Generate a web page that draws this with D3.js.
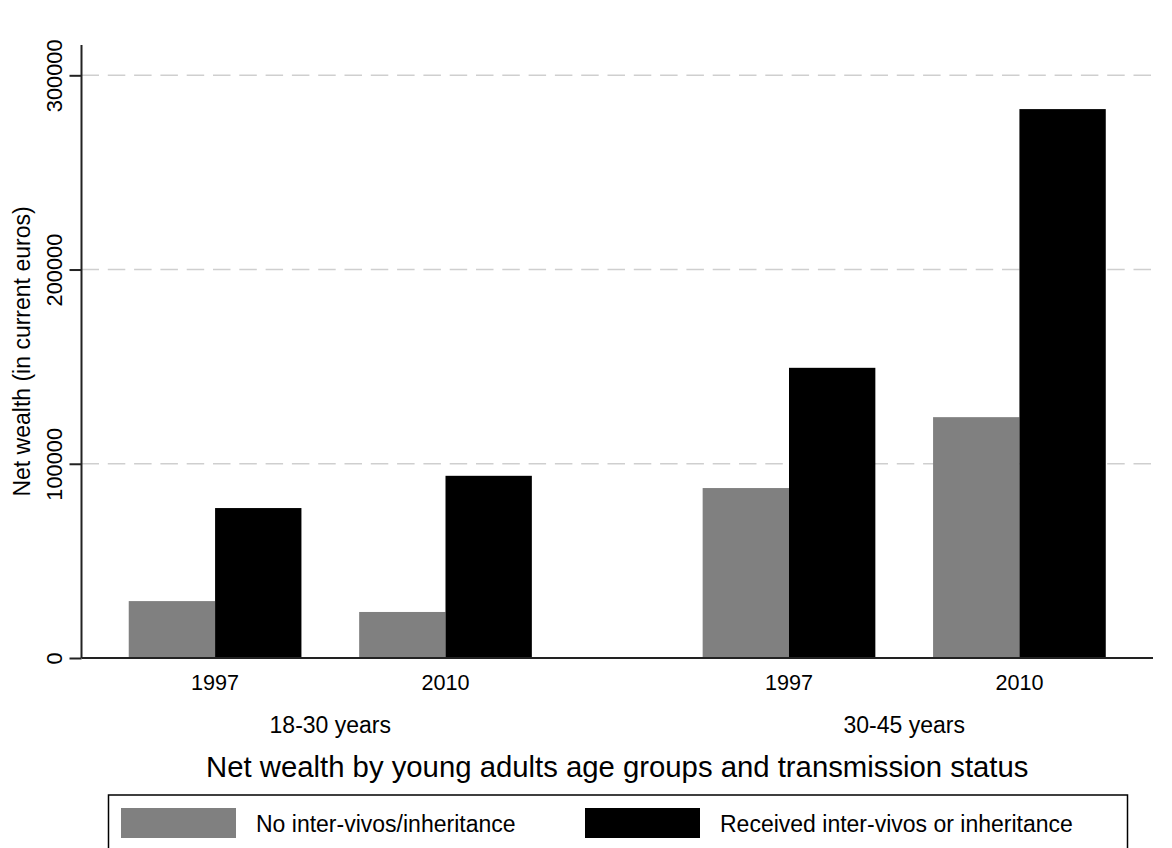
<!DOCTYPE html>
<html>
<head>
<meta charset="utf-8">
<script src="https://cdn.jsdelivr.net/npm/d3@7"></script>
<style>
  body { margin: 0; background: #fff; }
  svg text { font-family: "Liberation Sans", Arial, Helvetica, sans-serif; fill: #000; }
</style>
</head>
<body>
<div id="chart"></div>
<script>
// data
const ageGroups = ['18-30 years', '30-45 years'];
const years = ['1997', '2010'];
const seriesNames = ['No inter-vivos/inheritance', 'Received inter-vivos or inheritance'];
// values per age group, per year: [no transmission, received]
const young1997 = [29300, 77200];
const young2010 = [23700, 93800];
const older1997 = [87500, 149400];
const older2010 = [124000, 282600];
const yTicks = [0, 100000, 200000, 300000];
const yTop = 315600;

const rows = [
    { group: ageGroups[0], year: years[0], values: young1997 },
    { group: ageGroups[0], year: years[1], values: young2010 },
    { group: ageGroups[1], year: years[0], values: older1997 },
    { group: ageGroups[1], year: years[1], values: older2010 }
];
const colors = ['#808080', '#000000'];

// 1. svg + margins
const width = 1172;
const height = 848;
const margin = { top: 45, right: 19, bottom: 190, left: 81.5 };
const innerW = width - margin.left - margin.right;
const innerH = height - margin.top - margin.bottom;

const svg = d3.select('#chart').append('svg')
    .attr('width', width)
    .attr('height', height);

const group = svg.append('g')
    .attr('transform', 'translate(' + margin.left + ',' + margin.top + ')');

// 2. scales
const groupScale = d3.scaleBand().domain(ageGroups).range([0, innerW])
    .paddingInner(0.2976).paddingOuter(0.0823);
const yearScale = d3.scaleBand().domain(years).range([0, groupScale.bandwidth()])
    .paddingInner(0.2505).paddingOuter(0);
const seriesScale = d3.scaleBand().domain([0, 1]).range([0, yearScale.bandwidth()]);
const yScale = d3.scaleLinear().domain([0, yTop]).range([innerH, 0]);

// gridlines
group.append('g').selectAll('line')
    .data(yTicks.filter(d => d > 0))
    .join('line')
    .attr('x1', 0).attr('x2', innerW)
    .attr('y1', d => yScale(d)).attr('y2', d => yScale(d))
    .attr('stroke', '#cfcfcf')
    .attr('stroke-width', 1.5)
    .attr('stroke-dasharray', '17.5,8.8');

// bars
const pair = group.selectAll('g.pair')
    .data(rows)
    .join('g')
    .attr('class', 'pair')
    .attr('transform', d => 'translate(' + (groupScale(d.group) + yearScale(d.year)) + ',0)');

pair.selectAll('rect')
    .data(d => d.values.map((v, i) => ({ v, i })))
    .join('rect')
    .attr('x', d => seriesScale(d.i))
    .attr('y', d => yScale(d.v))
    .attr('width', seriesScale.bandwidth())
    .attr('height', d => innerH - yScale(d.v))
    .attr('fill', d => colors[d.i]);

// y axis
const yAxis = d3.axisLeft(yScale).tickValues(yTicks).tickSize(12).tickPadding(8).tickFormat(d3.format('d'));
const yAxisGroup = group.append('g').call(yAxis);
yAxisGroup.select('.domain').attr('stroke', '#222').attr('stroke-width', 2)
    .attr('d', 'M0,' + innerH + 'V0');
yAxisGroup.selectAll('.tick line').attr('stroke', '#222').attr('stroke-width', 2);
yAxisGroup.selectAll('.tick text')
    .attr('font-size', '21.8px')
    .attr('transform', 'rotate(-90)')
    .attr('x', 0)
    .attr('y', -20)
    .attr('dy', 0)
    .attr('text-anchor', 'middle');

// x baseline
group.append('line')
    .attr('x1', 0).attr('x2', innerW)
    .attr('y1', innerH).attr('y2', innerH)
    .attr('stroke', '#222').attr('stroke-width', 2);

// year labels
ageGroups.forEach(g => {
    const xAxis = d3.axisBottom(yearScale).tickSize(0).tickPadding(14);
    const ax = group.append('g')
        .attr('transform', 'translate(' + groupScale(g) + ',' + innerH + ')')
        .call(xAxis);
    ax.select('.domain').remove();
    ax.selectAll('.tick text').attr('font-size', '21.6px').attr('dy', 0).attr('y', 32);
});

// age group labels
group.append('g').selectAll('text')
    .data(ageGroups)
    .join('text')
    .attr('x', d => groupScale(d) + groupScale.bandwidth() / 2)
    .attr('y', innerH + 75)
    .attr('text-anchor', 'middle')
    .attr('font-size', '23px')
    .text(d => d);

// axis title
svg.append('text')
    .attr('transform', 'translate(30,' + (margin.top + innerH / 2) + ') rotate(-90)')
    .attr('text-anchor', 'middle')
    .attr('font-size', '23px')
    .text('Net wealth (in current euros)');

// chart title
svg.append('text')
    .attr('x', margin.left + innerW / 2)
    .attr('y', 776.5)
    .attr('text-anchor', 'middle')
    .attr('font-size', '29.3px')
    .text('Net wealth by young adults age groups and transmission status');

// legend
const legend = svg.append('g');
legend.append('rect')
    .attr('x', 108.5).attr('y', 795)
    .attr('width', 1019).attr('height', 80)
    .attr('fill', 'none').attr('stroke', '#000').attr('stroke-width', 1.5);

const legendX = [121, 585];
const item = legend.selectAll('g.item')
    .data(seriesNames)
    .join('g')
    .attr('class', 'item')
    .attr('transform', (d, i) => 'translate(' + legendX[i] + ',808)');
item.append('rect')
    .attr('width', 115).attr('height', 30)
    .attr('fill', (d, i) => colors[i]);
item.append('text')
    .attr('x', 135).attr('y', 24)
    .attr('font-size', '23px')
    .text(d => d);
</script>
</body>
</html>
